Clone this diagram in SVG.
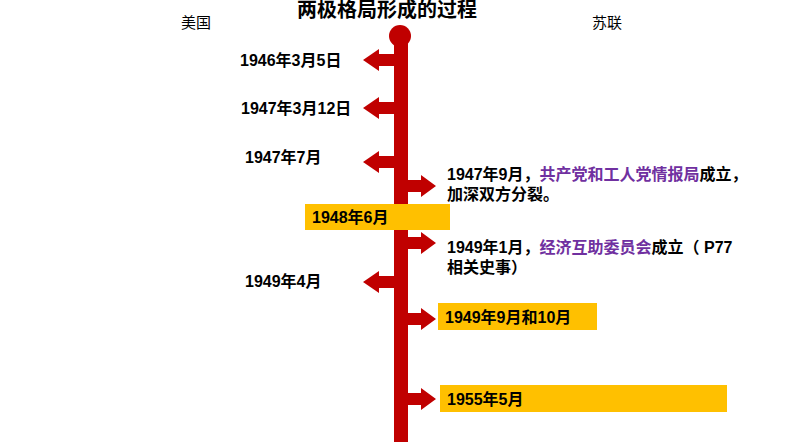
<svg xmlns="http://www.w3.org/2000/svg" xmlns:xlink="http://www.w3.org/1999/xlink" width="794" height="447" viewBox="0 0 794 447">
<style>
text{font-family:"Liberation Sans","Noto Sans CJK SC",sans-serif;fill:#000}
.b{font-weight:bold;font-size:16px}
.t{font-weight:bold;font-size:20px}
.n{font-size:15px}
.p{fill:#7030A0}
.arr{fill:#C00000}
.box{fill:#FFC000}
</style>
<defs>
<path id="la" d="M0,-6 H-16 V-11 L-32,0 L-16,11 V6 H0 Z"/>
<path id="ra" d="M0,-6 H14 V-11 L29,0 L14,11 V6 H0 Z"/>
</defs>
<rect width="794" height="447" fill="#fff"/>
<text class="t" x="297" y="17">两极格局形成的过程</text>
<text class="n" x="181" y="28">美国</text>
<text class="n" x="592" y="28">苏联</text>
<g id="timeline" class="arr">
<circle cx="400" cy="36" r="11"/>
<rect x="394" y="36" width="14" height="406"/>
</g>
<g id="connectors" class="arr">
<use xlink:href="#la" x="395" y="60"/>
<use xlink:href="#la" x="395" y="108"/>
<use xlink:href="#la" x="395" y="162"/>
<use xlink:href="#ra" x="407" y="186"/>
<use xlink:href="#ra" x="407" y="243"/>
<use xlink:href="#la" x="395" y="282"/>
<use xlink:href="#ra" x="407" y="319"/>
<use xlink:href="#ra" x="407" y="399"/>
</g>
<g id="n1946"><text class="b" x="240" y="66">1946年3月5日</text></g>
<g id="n1947a"><text class="b" x="241" y="114">1947年3月12日</text></g>
<g id="n1947b"><text class="b" x="245" y="163">1947年7月</text></g>
<g id="n1947c"><text class="b" x="447" y="180">1947年9月，<tspan class="p">共产党和工人党情报局</tspan>成立，</text><text class="b" x="447" y="200">加深双方分裂。</text></g>
<g id="n1948"><rect class="box" x="305" y="204" width="145" height="26"/><text class="b" x="312" y="223">1948年6月</text></g>
<g id="n1949a"><text class="b" x="447" y="253">1949年1月，<tspan class="p">经济互助委员会</tspan>成立（ P77</text><text class="b" x="447" y="273">相关史事）</text></g>
<g id="n1949b"><text class="b" x="245" y="287">1949年4月</text></g>
<g id="n1949c"><rect class="box" x="438" y="303" width="159" height="27"/><text class="b" x="445" y="323">1949年9月和10月</text></g>
<g id="n1955"><rect class="box" x="440" y="385" width="287" height="27"/><text class="b" x="447" y="405">1955年5月</text></g>
</svg>
